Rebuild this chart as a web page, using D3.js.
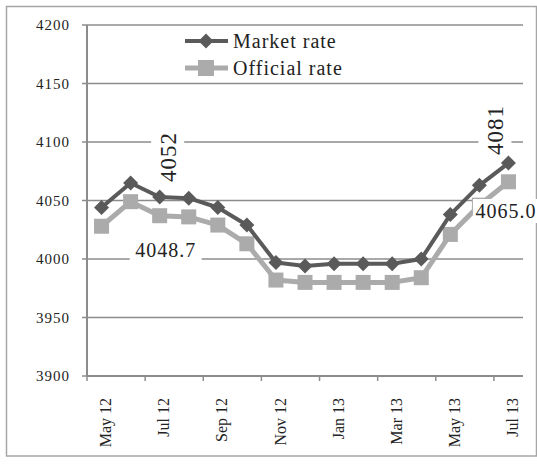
<!DOCTYPE html>
<html>
<head>
<meta charset="utf-8">
<script src="https://cdn.jsdelivr.net/npm/d3@7"></script>
<style>
body { margin: 0; background: #fff; }
text { font-family: "Liberation Serif", "Times New Roman", serif; fill: #222; }
</style>
</head>
<body>
<div id="c"></div>
<script>
var months = ["May 12", "Jun 12", "Jul 12", "Aug 12", "Sep 12", "Oct 12", "Nov 12", "Dec 12",
	"Jan 13", "Feb 13", "Mar 13", "Apr 13", "May 13", "Jun 13", "Jul 13"];
var market = [4044, 4065, 4053, 4052, 4044, 4029, 3997, 3994, 3996, 3996, 3996, 4000, 4038, 4063, 4082];
var official = [4028, 4049, 4037, 4036, 4029, 4013, 3982, 3980, 3980, 3980, 3980, 3984, 4021, 4046, 4066];
var y_ticks = [3900, 3950, 4000, 4050, 4100, 4150, 4200];

var width = 537, height = 466;
var plot_l = 87, plot_r = 523, plot_t = 25, plot_b = 376;

var svg = d3.select("#c").append("svg")
	.attr("width", width)
	.attr("height", height);

// outer frame
svg.append("rect")
	.attr("x", 6.5).attr("y", 6.5)
	.attr("width", 530).attr("height", 449.5)
	.attr("fill", "none")
	.attr("stroke", "#a6a6a6")
	.attr("stroke-width", 1.5);

var x_scale = d3.scaleBand()
	.domain(months)
	.range([plot_l, plot_r]);

var y_scale = d3.scaleLinear()
	.domain([3900, 4200])
	.range([plot_b, plot_t]);

function cx(d, i) { return x_scale(months[i]) + x_scale.bandwidth() / 2; }

// gridlines
svg.append("g")
	.selectAll("line")
	.data(y_ticks)
	.enter()
	.append("line")
	.attr("x1", plot_l - 5).attr("x2", plot_r)
	.attr("y1", function(d) { return y_scale(d); })
	.attr("y2", function(d) { return y_scale(d); })
	.attr("stroke", "#8c8c8c")
	.attr("stroke-width", 1.5);

// y labels
svg.append("g")
	.selectAll("text")
	.data(y_ticks)
	.enter()
	.append("text")
	.attr("text-anchor", "end")
	.attr("x", 70)
	.attr("y", function(d) { return y_scale(d) + 5; })
	.style("font-size", "15px")
	.style("letter-spacing", "1px")
	.text(function(d) { return d; });

// axis lines
svg.append("line")
	.attr("x1", plot_l).attr("x2", plot_l)
	.attr("y1", plot_t).attr("y2", plot_b)
	.attr("stroke", "#8c8c8c").attr("stroke-width", 2);

svg.append("line")
	.attr("x1", plot_l).attr("x2", plot_r)
	.attr("y1", plot_b).attr("y2", plot_b)
	.attr("stroke", "#8c8c8c").attr("stroke-width", 2);

// x ticks on every second category boundary
var tick_months = months.filter(function(d, i) { return i % 2 == 0; });
svg.append("g")
	.selectAll("line")
	.data(tick_months)
	.enter()
	.append("line")
	.attr("x1", function(d) { return x_scale(d); })
	.attr("x2", function(d) { return x_scale(d); })
	.attr("y1", plot_b).attr("y2", plot_b + 5)
	.attr("stroke", "#8c8c8c").attr("stroke-width", 1.5);

svg.append("g")
	.selectAll("text")
	.data(tick_months)
	.enter()
	.append("text")
	.attr("text-anchor", "end")
	.attr("transform", function(d) {
		return "translate(" + (x_scale(d) + x_scale.bandwidth() / 2 + 4) + "," + (plot_b + 22) + ") rotate(-90)";
	})
	.attr("dy", "0.35em")
	.style("font-size", "16px")
	.text(function(d) { return d; });

// lines
var line = d3.line()
	.x(cx)
	.y(function(d) { return y_scale(d); });

svg.append("path")
	.datum(official)
	.attr("d", line)
	.attr("fill", "none")
	.attr("stroke", "#ababab")
	.attr("stroke-width", 5)
	.attr("stroke-linejoin", "round");

svg.append("g")
	.selectAll("rect")
	.data(official)
	.enter()
	.append("rect")
	.attr("x", function(d, i) { return cx(d, i) - 7.5; })
	.attr("y", function(d) { return y_scale(d) - 7.5; })
	.attr("width", 15).attr("height", 15)
	.attr("fill", "#ababab");

svg.append("path")
	.datum(market)
	.attr("d", line)
	.attr("fill", "none")
	.attr("stroke", "#5a5a5a")
	.attr("stroke-width", 4)
	.attr("stroke-linejoin", "round");

var diamond = "M0,-7.5L7.5,0L0,7.5L-7.5,0Z";
svg.append("g")
	.selectAll("path")
	.data(market)
	.enter()
	.append("path")
	.attr("d", diamond)
	.attr("transform", function(d, i) { return "translate(" + cx(d, i) + "," + y_scale(d) + ")"; })
	.attr("fill", "#5a5a5a");

// data labels
function add_label(txt, px, py, rot, bw, bh, size) {
	var g = svg.append("g").attr("transform", "translate(" + px + "," + py + ")");
	g.append("rect")
		.attr("x", -bw / 2).attr("y", -bh / 2)
		.attr("width", bw).attr("height", bh)
		.attr("fill", "#fff");
	g.append("text")
		.attr("text-anchor", "middle")
		.attr("dy", "0.35em")
		.attr("transform", rot ? "rotate(-90)" : null)
		.style("font-size", size + "px")
		.style("letter-spacing", "1px")
		.text(txt);
}

var half = x_scale.bandwidth() / 2;
add_label("4052", x_scale("Jul 12") + half + 8, 157, true, 33, 52, 23);
add_label("4048.7", x_scale("Jul 12") + half + 6, 250, false, 72, 22, 20);
add_label("4081", x_scale("Jul 13") + 1, 130, true, 33, 50, 23);
add_label("4065.0", x_scale("Jul 13") + 12, 211, false, 66, 24, 20);

// legend
var legend = svg.append("g");
var items = [
	{ name: "Market rate", color: "#5a5a5a", y: 41, w: 4 },
	{ name: "Official rate", color: "#ababab", y: 68, w: 5 }
];
items.forEach(function(d, i) {
	legend.append("line")
		.attr("x1", 185).attr("x2", 228)
		.attr("y1", d.y).attr("y2", d.y)
		.attr("stroke", d.color).attr("stroke-width", d.w);
	if (i == 0) {
		legend.append("path")
			.attr("d", diamond)
			.attr("transform", "translate(206," + d.y + ")")
			.attr("fill", d.color);
	} else {
		legend.append("rect")
			.attr("x", 198).attr("y", d.y - 8)
			.attr("width", 16).attr("height", 16)
			.attr("fill", d.color);
	}
	legend.append("text")
		.attr("x", 233)
		.attr("y", d.y + 7)
		.style("font-size", "20px")
		.style("letter-spacing", "1px")
		.text(d.name);
});
</script>
</body>
</html>
